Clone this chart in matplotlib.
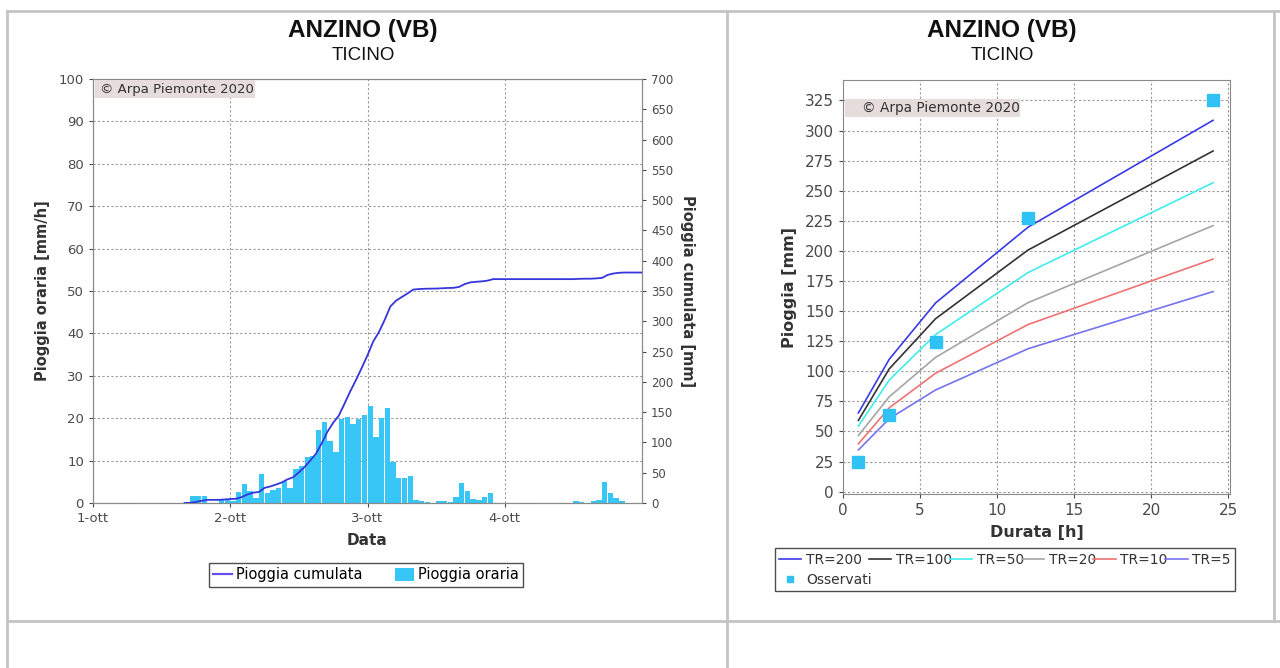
import matplotlib
matplotlib.use('Agg')
import matplotlib.pyplot as plt
from matplotlib.lines import Line2D
from matplotlib.patches import Patch, Rectangle
import numpy as np

# Hourly rain [mm/h], first value is 1-ott 16:00
start_hour = 16
rain_1ott = [0.3, 1.6, 1.7, 1.6, 0.0, 0.0, 0.6, 0.7]
rain_2ott = [0.5, 2.7, 4.4, 2.9, 1.2, 6.8, 2.3, 3.1, 3.5, 5.1, 3.5, 8.1,
             8.8, 10.9, 11.1, 17.2, 19.1, 14.7, 12.1, 19.9, 20.3, 18.7, 19.8, 20.7]
rain_3ott = [22.8, 15.5, 20.0, 22.3, 9.6, 6.0, 5.9, 6.4, 0.8, 0.5, 0.2, 0.1,
             0.5, 0.5, 0.2, 1.5, 4.7, 2.9, 0.9, 0.7, 1.3, 2.4, 0.0, 0.0]
rain_4ott = [0.0, 0.0, 0.0, 0.0, 0.0, 0.0, 0.0, 0.0, 0.0, 0.0, 0.0, 0.0,
             0.5, 0.2, 0.0, 0.5, 0.8, 5.0, 2.3, 1.2, 0.4, 0.0, 0.0, 0.0]
day_labels = ['1-ott', '2-ott', '3-ott', '4-ott']

# Rain depth-duration curves [mm] per return period
durations = [1, 3, 6, 12, 24]
tr_200 = [65.4, 110.0, 156.7, 219.7, 308.5]
tr_100 = [59.2, 102.0, 143.6, 200.7, 283.0]
tr_50 = [54.5, 92.7, 130.4, 182.0, 256.6]
tr_20 = [46.6, 78.8, 111.5, 157.0, 221.0]
tr_10 = [39.7, 69.6, 98.3, 138.8, 193.2]
tr_5 = [34.6, 60.6, 84.4, 118.7, 166.2]
observed = [24.3, 63.4, 124.3, 227.5, 325.0]

W, H = 1280, 668
fig = plt.figure(figsize=(W / 100, H / 100), dpi=100)


def fx(px):
    return px / W


def fy(py):
    return 1 - py / H


tick_col = '#4a4a4a'
lab_col = '#333333'
grid_kw = dict(color='#9a9a9a', linestyle=(0, (2, 2)), linewidth=0.8)
bar_col = '#38c6f6'

# table borders
border = '#c4c4c4'
for xs, ys in [([7, 1280], [11, 11]), ([7, 1280], [621, 621]),
               ([7, 7], [11, 668]), ([727, 727], [11, 668]), ([1274, 1274], [11, 621])]:
    fig.add_artist(Line2D([fx(x) for x in xs], [fy(y) for y in ys],
                          transform=fig.transFigure, color=border, lw=2))

# titles
for cx in [363, 1002]:
    fig.text(fx(cx), fy(30), 'ANZINO (VB)', ha='center', va='center',
             family='Liberation Sans', weight='bold', fontsize=17.5, color='#111111')
    fig.text(fx(cx), fy(56), 'TICINO', ha='center', va='center',
             family='Liberation Sans', fontsize=13.5, color='#111111')

# ---- left chart: hourly and cumulated rain ----
ax = fig.add_axes([fx(93), fy(503), fx(642 - 93), (503 - 79) / H])
rain = np.array(rain_1ott + rain_2ott + rain_3ott + rain_4ott)
hours = start_hour + np.arange(len(rain))
ax.bar(hours / 24, rain, width=0.94 / 24, align='edge', color=bar_col,
       edgecolor='none', zorder=2)
ax.set_xlim(0, 4)
ax.set_ylim(0, 100)
ax.set_yticks(range(0, 101, 10))
ax.set_xticks(range(4))
ax.set_xticklabels(day_labels)
ax.grid(True, **grid_kw)
ax.set_axisbelow(True)
ax.tick_params(colors=tick_col, labelsize=9.5, length=3)
for s in ax.spines.values():
    s.set_color('#8a8a8a')
ax.set_ylabel('Pioggia oraria [mm/h]', fontsize=10.5, weight='bold', color=lab_col, labelpad=6)
ax.set_xlabel('Data', fontsize=11, weight='bold', color=lab_col, labelpad=6)

ax2 = ax.twinx()
cum_x = np.concatenate([[hours[0] / 24], (hours + 1) / 24])
cum_y = np.concatenate([[0], np.cumsum(rain)])
ax2.plot(cum_x, cum_y, color='#3535dd', lw=1.3, zorder=3)
ax2.set_ylim(0, 700)
ax2.set_yticks(range(0, 701, 50))
ax2.tick_params(colors=tick_col, labelsize=8.5, length=3)
for s in ax2.spines.values():
    s.set_color('#8a8a8a')
ax2.set_ylabel('Pioggia cumulata [mm]', fontsize=10.5, weight='bold', color=lab_col,
               rotation=-90, labelpad=16)

fig.add_artist(Rectangle((fx(95), fy(98)), fx(160), 18 / H, transform=fig.transFigure,
                         facecolor='#e6dcdc', edgecolor='none', zorder=5))
fig.text(fx(100), fy(89), '© Arpa Piemonte 2020', ha='left', va='center',
         fontsize=9.5, color='#333333', zorder=6)

handles = [Line2D([], [], color='#6a4df0', lw=1.6),
           Patch(facecolor=bar_col, edgecolor='none')]
leg = fig.legend(handles, ['Pioggia cumulata', 'Pioggia oraria'], loc='center',
                 bbox_to_anchor=(fx(366), fy(575)), ncol=2, fontsize=10.5,
                 frameon=True, fancybox=False, handlelength=1.3, handleheight=0.9,
                 handletextpad=0.3, columnspacing=2.2, borderpad=0.3)
leg.get_frame().set_edgecolor('#222222')
leg.get_frame().set_linewidth(1.0)

# ---- right chart: depth-duration curves ----
bx = fig.add_axes([fx(843), fy(494), fx(1230 - 843), (494 - 80) / H])
curves = [(tr_200, '#3a3ae8', 'TR=200'), (tr_100, '#333333', 'TR=100'),
          (tr_50, '#40ecec', 'TR=50'), (tr_20, '#a5a5a5', 'TR=20'),
          (tr_10, '#f07272', 'TR=10'), (tr_5, '#7474f0', 'TR=5')]
line_handles = []
for vals, col, name in curves:
    h, = bx.plot(durations, vals, color=col, lw=1.2, label=name)
    line_handles.append(h)
obs, = bx.plot(durations, observed, linestyle='none', marker='s', markersize=9,
               color='#30c2f4', label='Osservati', zorder=4)
bx.set_xlim(0, 25.1)
bx.set_ylim(-2, 342)
bx.set_yticks(range(0, 326, 25))
bx.set_xticks(range(0, 26, 5))
bx.grid(True, **grid_kw)
bx.set_axisbelow(True)
bx.tick_params(colors=tick_col, labelsize=11, length=3)
for s in bx.spines.values():
    s.set_color('#8a8a8a')
bx.set_ylabel('Pioggia [mm]', fontsize=11.5, weight='bold', color=lab_col, labelpad=6)
bx.set_xlabel('Durata [h]', fontsize=11.5, weight='bold', color=lab_col, labelpad=5)

fig.add_artist(Rectangle((fx(845), fy(117)), fx(175), 18 / H, transform=fig.transFigure,
                         facecolor='#e6dcdc', edgecolor='none', zorder=5))
fig.text(fx(862), fy(108), '© Arpa Piemonte 2020', ha='left', va='center',
         fontsize=9.8, color='#333333', zorder=6)

order = [line_handles[0], obs] + line_handles[1:]
labels = [h.get_label() for h in order]
leg2 = fig.legend(order, labels, loc='lower left',
                  bbox_to_anchor=(fx(768), fy(598), fx(1242 - 768), 50 / H),
                  mode='expand', ncol=6, fontsize=10, frameon=True, fancybox=False,
                  handlelength=1.6, handletextpad=0.35, columnspacing=0.6,
                  borderpad=0.3, labelspacing=0.45, markerscale=0.55)
leg2.get_frame().set_edgecolor('#222222')
leg2.get_frame().set_linewidth(1.0)
for t in leg2.get_texts():
    t.set_color('#333333')

fig.savefig('out.png', dpi=100)
